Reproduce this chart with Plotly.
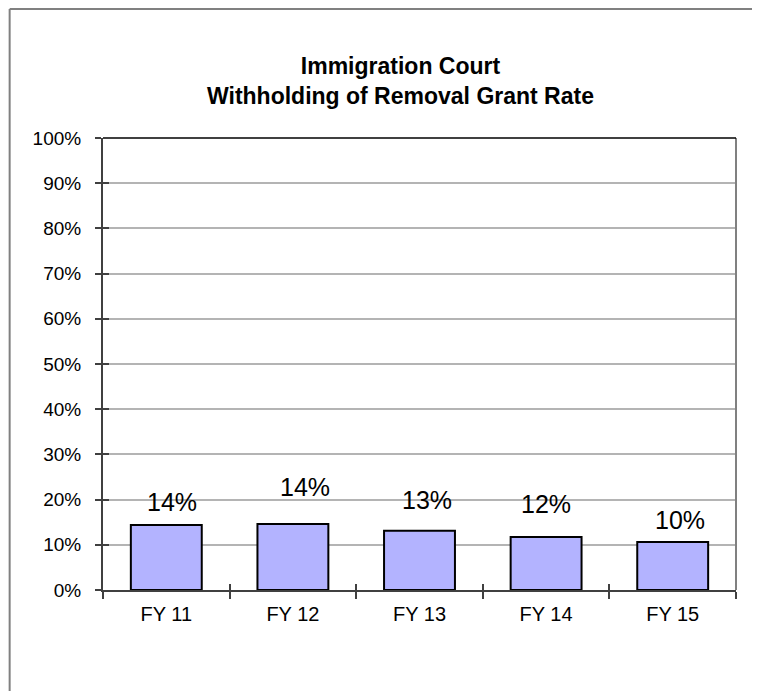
import plotly.graph_objects as go

categories = ["FY 11", "FY 12", "FY 13", "FY 14", "FY 15"]
grant_rate = [0.144, 0.146, 0.131, 0.117, 0.106]
rate_labels = ["14%", "14%", "13%", "12%", "10%"]
y_tick_vals = [0, 0.1, 0.2, 0.3, 0.4, 0.5, 0.6, 0.7, 0.8, 0.9, 1.0]
y_tick_text = ["0%", "10%", "20%", "30%", "40%", "50%", "60%", "70%", "80%", "90%", "100%"]
title_lines = ["Immigration Court", "Withholding of Removal Grant Rate"]

# label offsets (style only)
label_xshift = [6, 12, 7, 0, 7]
label_yshift = [7, 21, 15, 17, 6]

FONT = "Liberation Sans, Arial, sans-serif"
PAGE = 8  # browser body margin offset

# desired plot area in page pixels: x 102.5..736.5, y 138..590
L, R, T, B = 102.5, 736.5, 138.0, 590.0
PW, PH = R - L, B - T


def px_x(x):
    return (x - L) / PW


def px_y(y):
    return (B - y) / PH


fig = go.Figure()
fig.add_trace(go.Bar(
    x=categories, y=grant_rate,
    marker=dict(color="#b3b3ff", line=dict(color="#000000", width=2)),
    width=0.56, hoverinfo="skip",
))

annotations = []
for c, v, t, xs, ys in zip(categories, grant_rate, rate_labels, label_xshift, label_yshift):
    annotations.append(dict(x=c, y=v, xref="x", yref="y", text=t, showarrow=False,
                            yanchor="bottom", xanchor="center", xshift=xs, yshift=ys,
                            font=dict(family=FONT, size=25, color="#000000")))
annotations.append(dict(x=px_x(400), y=px_y(81), xref="paper", yref="paper",
                        text="<b>" + title_lines[0] + "</b><br><b>" + title_lines[1] + "</b>",
                        showarrow=False, xanchor="center", yanchor="middle",
                        font=dict(family=FONT, size=23, color="#000000")))

shapes = [
    # plot area right border
    dict(type="line", xref="paper", yref="paper", x0=1, x1=1, y0=0, y1=1,
         line=dict(color="#808080", width=2)),
    # top border
    dict(type="line", xref="paper", yref="paper", x0=0, x1=1, y0=1, y1=1,
         line=dict(color="#000000", width=1.5)),
    # outer chart border (left and top edges only; the rest lies outside the picture)
    dict(type="line", xref="paper", yref="paper",
         x0=px_x(9), x1=px_x(9), y0=px_y(700), y1=px_y(9),
         line=dict(color="#808080", width=2), layer="below"),
    dict(type="line", xref="paper", yref="paper",
         x0=px_x(9), x1=px_x(770), y0=px_y(9), y1=px_y(9),
         line=dict(color="#808080", width=2), layer="below"),
]

W, H = 760 - PAGE, 691 - PAGE
fig.update_layout(
    width=W, height=H,
    margin=dict(l=L - PAGE, r=W - (R - PAGE), t=T - PAGE, b=H - (B - PAGE)),
    paper_bgcolor="#ffffff", plot_bgcolor="#ffffff",
    showlegend=False,
    annotations=annotations,
    shapes=shapes,
    xaxis=dict(
        type="category", range=[-0.5, 4.5],
        tickson="boundaries", ticks="outside", ticklen=7, tickcolor="#404040", tickwidth=1.5,
        showline=True, linecolor="#404040", linewidth=1.5,
        showgrid=False, zeroline=False,
        tickfont=dict(family=FONT, size=20, color="#000000"),
        ticklabelstandoff=5,
    ),
    xaxis2=dict(
        overlaying="x", range=[-0.5, 4.5],
        tickvals=[-0.5, 0.5, 1.5, 2.5, 3.5, 4.5], ticks="inside", ticklen=6,
        tickcolor="#404040", tickwidth=1.5, showticklabels=False,
        showgrid=False, zeroline=False, showline=False, side="bottom",
    ),
    yaxis=dict(
        range=[0, 1], tickvals=y_tick_vals, ticktext=y_tick_text,
        ticks="outside", ticklen=6, tickcolor="#404040", tickwidth=1.5,
        showline=True, linecolor="#404040", linewidth=2,
        showgrid=True, gridcolor="#b4b4b4", gridwidth=1.5,
        zeroline=False,
        tickfont=dict(family=FONT, size=19, color="#000000"),
        ticklabelstandoff=10,
    ),
    yaxis2=dict(
        overlaying="y", range=[0, 1], tickvals=y_tick_vals, ticks="inside", ticklen=6,
        tickcolor="#404040", tickwidth=1.5, showticklabels=False,
        showgrid=False, zeroline=False, showline=False,
    ),
)
# invisible trace to activate the secondary (tick-only) axes
fig.add_trace(go.Scatter(x=[0], y=[0], xaxis="x2", yaxis="y2", mode="markers",
                         marker=dict(opacity=0), hoverinfo="skip", showlegend=False))

fig.write_html("out.html")
